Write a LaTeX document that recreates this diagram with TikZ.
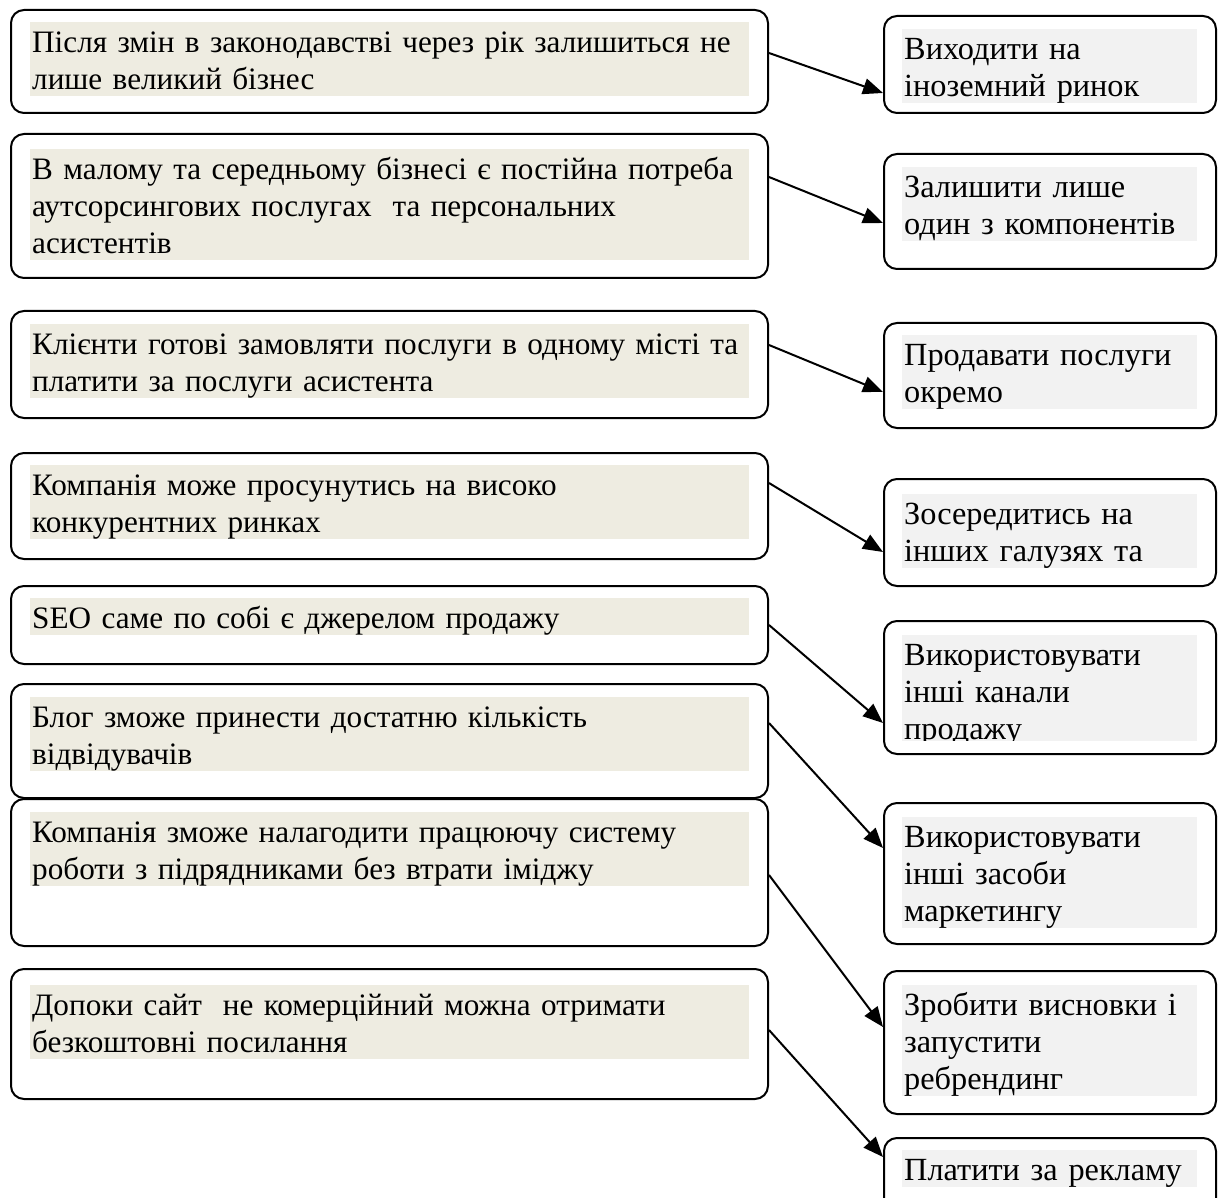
\documentclass[tikz,border=0pt]{standalone}
\usepackage{fontspec}
\setmainfont{Liberation Serif}
\usetikzlibrary{arrows.meta}
\definecolor{beigehl}{HTML}{EEECE1}
\definecolor{grayhl}{HTML}{F2F2F2}
\newcommand\txtfont{\fontsize{31.2}{37}\selectfont}
\newcommand\rtxtfont{\fontsize{32.3}{37}\selectfont}
\newcommand\sst{\rule[-7pt]{0pt}{37pt}}
\tikzset{
  box/.style={draw, line width=2pt, rounded corners=13pt, inner sep=0pt, anchor=north west},
  lbox/.style={box, minimum width=757pt},
  rbox/.style={box, minimum width=332pt},
  lhl/.style={fill=beigehl, anchor=north west, inner xsep=2pt, inner ysep=0pt, text width=715pt, align=left, font=\txtfont},
  rhl/.style={fill=grayhl, anchor=north west, inner xsep=2pt, inner ysep=0pt, text width=291pt, align=left, font=\rtxtfont},
  arr/.style={line width=2pt, -{Triangle[length=20pt,width=16pt]}}
}
\begin{document}
\begin{tikzpicture}[x=1pt,y=-1pt]
\useasboundingbox (0,0) rectangle (1224,1198);
\clip (0,0) rectangle (1224,1198);
% left boxes
\node[lbox, minimum height=103pt] (L1) at (10,9) {};
\node[lbox, minimum height=144pt] (L2) at (10,133) {};
\node[lbox, minimum height=107pt] (L3) at (10,310) {};
\node[lbox, minimum height=106pt] (L4) at (10,452) {};
\node[lbox, minimum height=78pt] (L5) at (10,585) {};
\node[lbox, minimum height=114pt] (L6) at (10,683) {};
\node[lbox, minimum height=147pt] (L7) at (10,798) {};
\node[lbox, minimum height=130pt] (L8) at (10,968) {};
% left texts
\node[lhl] (t1) at (30,22) {\sst Після змін в законодавстві через рік залишиться не\\\sst лише великий бізнес};
\node[lhl] (t2) at (30,149) {\sst В малому та середньому бізнесі є постійна потреба\\\sst аутсорсингових послугах\ \ та персональних\\\sst асистентів};
\node[lhl] (t3) at (30,324) {\sst Клієнти готові замовляти послуги в одному місті та\\\sst платити за послуги асистента};
\node[lhl] (t4) at (30,465) {\sst Компанія може просунутись на високо\\\sst конкурентних ринках};
\node[lhl] (t5) at (30,598) {\sst SEO саме по собі є джерелом продажу};
\node[lhl] (t6) at (30,697) {\sst Блог зможе принести достатню кількість\\\sst відвідувачів};
\node[lhl] (t7) at (30,812) {\sst Компанія зможе налагодити працюючу систему\\\sst роботи з підрядниками без втрати іміджу};
\node[lhl] (t8) at (30,985) {\sst Допоки сайт\ \ не комерційний можна отримати\\\sst безкоштовні посилання};
% right boxes
\node[rbox, minimum height=97pt] (R1) at (883,15) {};
\node[rbox, minimum height=115pt] (R2) at (883,153) {};
\node[rbox, minimum height=105pt] (R3) at (883,322) {};
\node[rbox, minimum height=107pt] (R4) at (883,478) {};
\node[rbox, minimum height=133pt] (R5) at (883,620) {};
\node[rbox, minimum height=141pt] (R6) at (883,802) {};
\node[rbox, minimum height=143pt] (R7) at (883,970) {};
\node[rbox, minimum height=110pt] (R8) at (883,1137) {};
% right texts
\node[rhl] (s1) at (902,29) {\sst Виходити на\\\sst іноземний ринок};
\node[rhl] (s2) at (902,167) {\sst Залишити лише\\\sst один з компонентів};
\node[rhl] (s3) at (902,335) {\sst Продавати послуги\\\sst окремо};
\node[rhl] (s4) at (902,494) {\sst Зосередитись на\\\sst інших галузях та};
\begin{scope}
\clip (900,635) rectangle (1200,740);
\node[rhl] (s5) at (902,635) {\sst Використовувати\\\sst інші канали\\\sst продажу};
\end{scope}
\node[rhl] (s6) at (902,817) {\sst Використовувати\\\sst інші засоби\\\sst маркетингу};
\node[rhl] (s7) at (902,985) {\sst Зробити висновки і\\\sst запустити\\\sst ребрендинг};
\node[rhl] (s8) at (902,1150) {\sst Платити за рекламу};
% arrows
\draw[arr] ([yshift=-44pt]L1.north east) -- ([yshift=-78pt]R1.north west);
\draw[arr] ([yshift=-44pt]L2.north east) -- ([yshift=-70pt]R2.north west);
\draw[arr] ([yshift=-35pt]L3.north east) -- ([yshift=-70pt]R3.north west);
\draw[arr] ([yshift=-31pt]L4.north east) -- ([yshift=-74pt]R4.north west);
\draw[arr] ([yshift=-40pt]L5.north east) -- ([yshift=-103pt]R5.north west);
\draw[arr] ([yshift=-40pt]L6.north east) -- ([yshift=-46pt]R6.north west);
\draw[arr] ([yshift=-77pt]L7.north east) -- ([yshift=-57pt]R7.north west);
\draw[arr] ([yshift=-62pt]L8.north east) -- ([yshift=-20pt]R8.north west);
\end{tikzpicture}
\end{document}
